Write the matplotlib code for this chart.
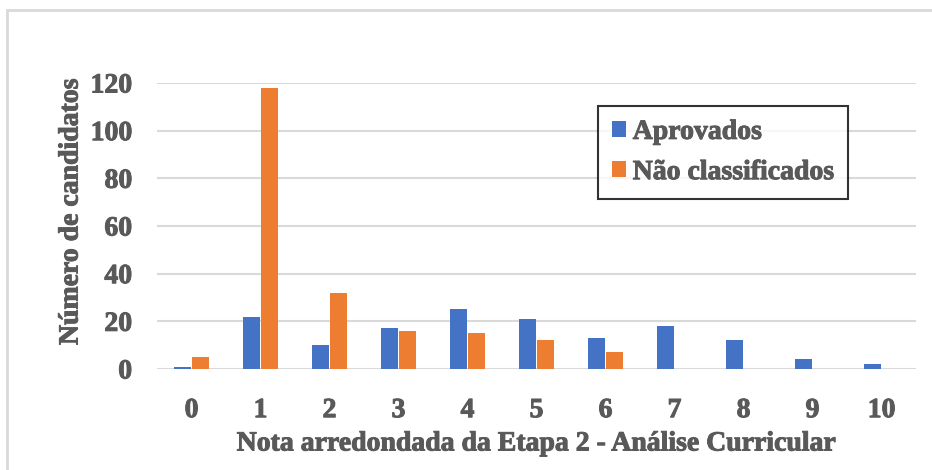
import numpy as np
import matplotlib.pyplot as plt
import matplotlib.patheffects as pe
from matplotlib.patches import Rectangle

notas = ["0", "1", "2", "3", "4", "5", "6", "7", "8", "9", "10"]
aprovados = [1, 22, 10, 17, 25, 21, 13, 18, 12, 4, 2]
nao_classificados = [5, 118, 32, 16, 15, 12, 7, 0, 0, 0, 0]

blue = "#4472c4"
orange = "#ed7d31"
grey = "#595959"

plt.rcParams["font.family"] = ["Liberation Serif", "DejaVu Serif"]
plt.rcParams["font.weight"] = "bold"
fs = 20
heavy = [pe.withStroke(linewidth=0.7, foreground=grey)]

fig = plt.figure(figsize=(9.32, 4.70), dpi=100)
# light outer chart border (only left and top edges are inside the image)
fig.patches.append(Rectangle((7 / 932, -10 / 470), 940 / 932, 470 / 470, transform=fig.transFigure,
                             fill=False, edgecolor="#d9d9d9", linewidth=2))

ax = fig.add_axes([157 / 932, 101 / 470, 759 / 932, 286 / 470])
x = np.arange(len(notas))
w = 0.235
ax.bar(x - 0.13, aprovados, w, color=blue, label="Aprovados", zorder=3)
ax.bar(x + 0.13, nao_classificados, w, color=orange, label="Não classificados", zorder=3)

ax.set_xlim(-0.5, len(notas) - 0.5)
ax.set_ylim(0, 120)
ax.set_yticks(range(0, 121, 20))
ax.set_xticks(x)
ax.set_xticklabels(notas)
ax.grid(axis="y", color="#d9d9d9", linewidth=1.5, zorder=0)
for s in ["top", "right", "left", "bottom"]:
    ax.spines[s].set_visible(False)
ax.tick_params(length=0, labelsize=fs, labelcolor=grey)
ax.tick_params(axis="y", pad=18)
ax.tick_params(axis="x", pad=21)
for lab in ax.get_xticklabels() + ax.get_yticklabels():
    lab.set_fontweight("bold")
    lab.set_path_effects(heavy)

ax.set_xlabel("Nota arredondada da Etapa 2 - Análise Curricular", fontsize=fs,
              fontweight="bold", color=grey, labelpad=6, path_effects=heavy)
ax.set_ylabel("Número de candidatos", fontsize=fs, fontweight="bold", color=grey, labelpad=5,
              path_effects=heavy)
ax.yaxis.label.set_y(0.55)

leg = ax.legend(loc="upper left", bbox_to_anchor=(598 / 932, 1 - 106 / 470), bbox_transform=fig.transFigure,
                prop={"size": fs, "weight": "bold"}, frameon=True, fancybox=False,
                handlelength=0.5, handleheight=0.5, handletextpad=0.25, labelspacing=0.55,
                borderpad=0.5, borderaxespad=0)
leg.get_frame().set_edgecolor("black")
leg.get_frame().set_linewidth(1.5)
for t in leg.get_texts():
    t.set_color(grey)
    t.set_path_effects(heavy)

fig.savefig("out.png", dpi=100)
